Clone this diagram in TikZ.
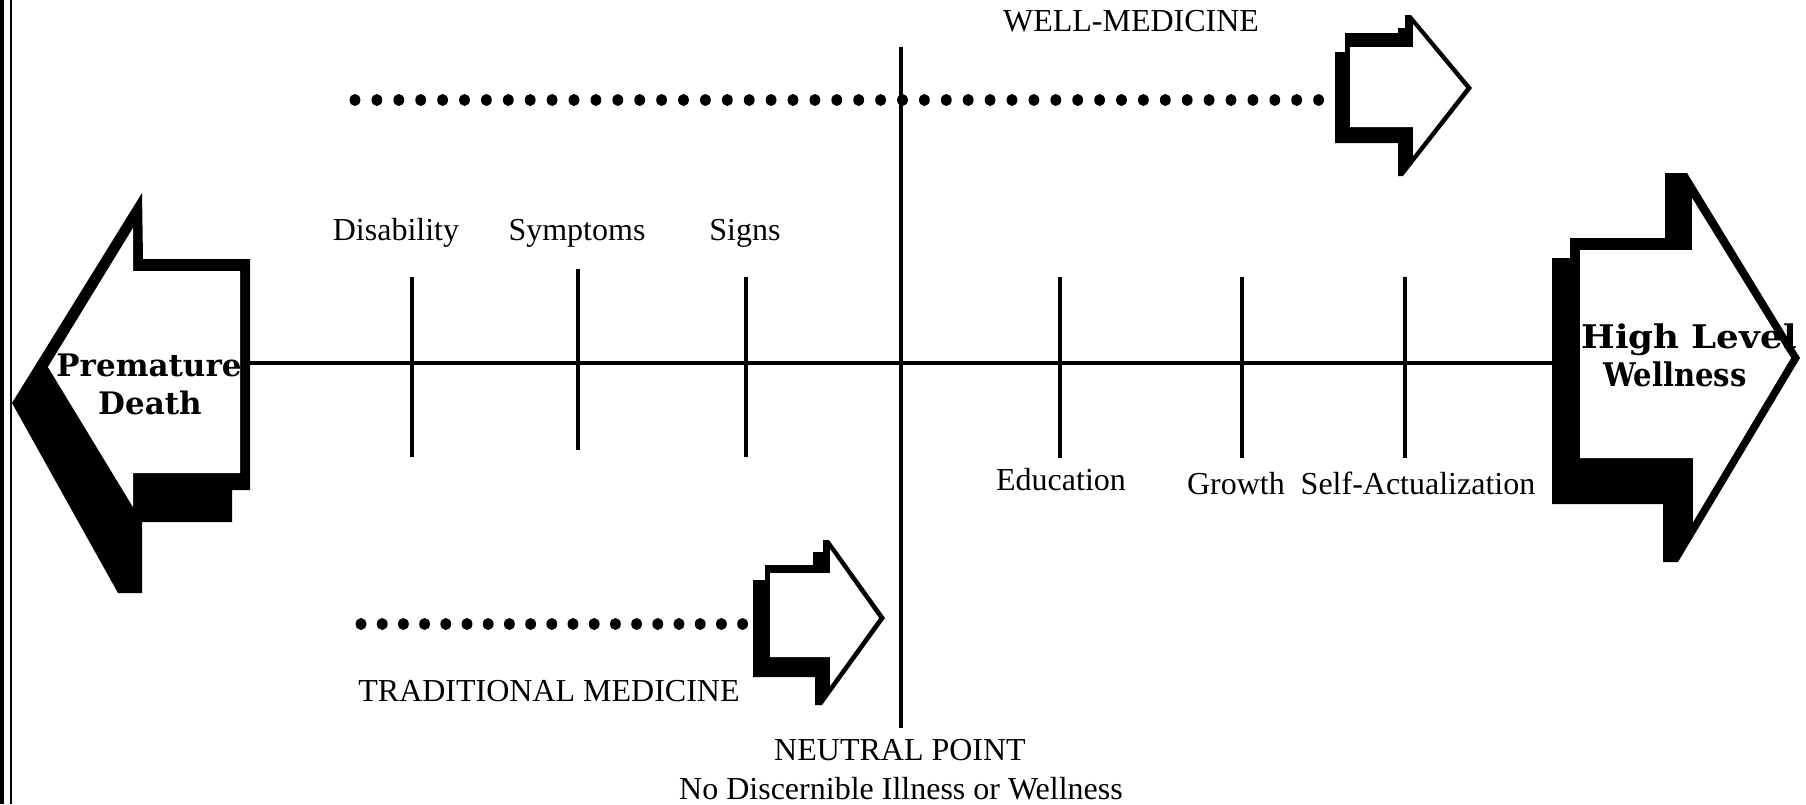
\documentclass[tikz,border=0pt]{standalone}
\usepackage{fontspec}
\setmainfont{Liberation Serif}
\newfontfamily\boldserif{DejaVu Serif}
\begin{document}
\begin{tikzpicture}[x=0.5pt,y=-0.5pt,
  ln/.style={line width=1.6pt},
  lbl/.style={anchor=base,inner sep=0pt,font=\fontsize{16}{19}\selectfont},
  big/.style={anchor=base,inner sep=0pt,font=\boldserif\bfseries\fontsize{15.5}{19}\selectfont},
  dotmark/.style={fill=black}]
\useasboundingbox (0,0) rectangle (1806,804);
\fill[white] (0,0) rectangle (1806,804);
% scan border at left
\fill[black] (0,0) rectangle (4,804);
\draw[line width=1pt] (10.5,0) -- (10.5,804);

% ---------- left big arrow (Premature Death)
\fill[black] (12,403) -- (142,193) -- (143,259) -- (250,259) -- (250,490) -- (232,490)
  -- (232,522) -- (142,522) -- (142,593) -- (118,593) -- cycle;
\fill[white] (48,367) -- (133,228) -- (133,271) -- (240,271) -- (240,473) -- (133,473)
  -- (133,507) -- cycle;
\coordinate (Lend) at (250,363);

% ---------- right big arrow (High Level Wellness)
\fill[black] (1665,173) -- (1687,173) -- (1800,358) -- (1678,562) -- (1663,562) -- (1663,504)
  -- (1552,504) -- (1552,258) -- (1570,258) -- (1570,238) -- (1665,238) -- cycle;
\fill[white] (1580,250) -- (1692,250) -- (1692,198) -- (1791,358) -- (1693,522) -- (1693,458)
  -- (1580,458) -- cycle;
\coordinate (Rend) at (1552,363);

% ---------- small top arrow (well-medicine)
\fill[black] (1405,15) -- (1411,15) -- (1472,88) -- (1403,176) -- (1398,176) -- (1398,143)
  -- (1335,143) -- (1335,52) -- (1345,52) -- (1345,33) -- (1398,33) -- (1398,28) -- (1405,28) -- cycle;
\fill[white] (1350,47) -- (1413,47) -- (1413,24) -- (1466,88) -- (1413,156) -- (1413,127)
  -- (1350,127) -- cycle;

% ---------- small bottom arrow (traditional medicine)
\fill[black] (823,540) -- (829,540) -- (885,618) -- (822,705) -- (815,705) -- (815,677)
  -- (753,677) -- (753,580) -- (765,580) -- (765,565) -- (813,565) -- (813,552) -- (823,552) -- cycle;
\fill[white] (770,573) -- (830,573) -- (830,549) -- (879,618) -- (830,686) -- (830,657)
  -- (770,657) -- cycle;

% ---------- main axis and neutral line
\draw[ln] (Lend) -- (Rend);
\coordinate (Ntop) at (901,47);
\coordinate (Nbot) at (901,728);
\draw[ln] (Ntop) -- (Nbot);

% ticks
\foreach \x/\a/\b in {412/277/457, 578/269/450, 746/277/457, 1060/277/458, 1242/277/458, 1405/277/458}
  \draw[ln] (\x,\a) -- (\x,\b);

% dotted lines
\foreach \i in {0,...,44}
  \fill[dotmark] ({355+21.9*\i},100) ellipse [x radius=5.4, y radius=6.0];
\foreach \i in {0,...,18}
  \fill[dotmark] ({361+21.2*\i},624) ellipse [x radius=5.4, y radius=6.0];

% labels
\node[lbl] (dis) at (396,240) {Disability};
\node[lbl] (sym) at (577,240) {Symptoms};
\node[lbl] (sig) at (745,240) {Signs};
\node[lbl] (edu) at (1061,490) {Education};
\node[lbl] (gro) at (1236,494) {Growth};
\node[lbl] (sel) at (1418,494) {Self-Actualization};
\node[lbl] (well) at (1131,31) {WELL-MEDICINE};
\node[lbl] (trad) at (549,701) {TRADITIONAL MEDICINE};
\node[lbl] (neut) at (900,760) {NEUTRAL POINT};
\node[lbl] (nodis) at (901,799) {No Discernible Illness or Wellness};

\node[big] (prem) at (149,376) {Premature};
\node[big] (death) at (150,414) {Death};
\node[big] (high) at (1689,348) {\scalebox{1.15}[1.05]{High Level}};
\node[big] (welln) at (1675,386) {\scalebox{0.94}[1.05]{Wellness}};
\end{tikzpicture}
\end{document}
